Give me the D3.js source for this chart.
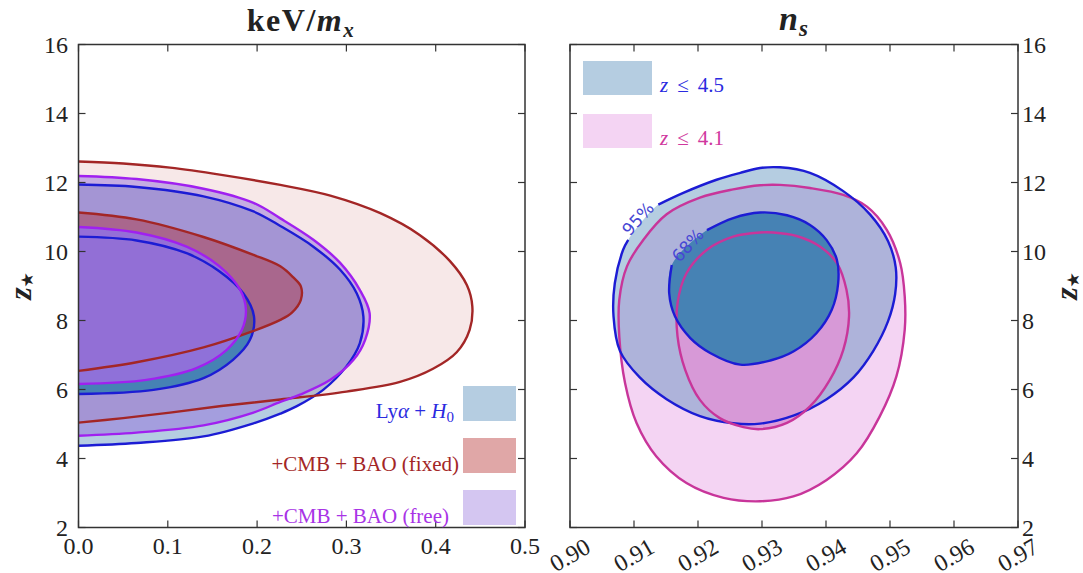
<!DOCTYPE html>
<html><head><meta charset="utf-8">
<script src="https://cdn.jsdelivr.net/npm/d3@7/dist/d3.min.js"></script>
<style>
body{margin:0;background:#fff}
svg{display:block}
text{font-family:"Liberation Serif","Times New Roman",serif;fill:#222}
</style></head>
<body><svg id="chart" width="1083" height="573"></svg>
<script>
// ---------- data ----------
const leftXTicks = [0.0, 0.1, 0.2, 0.3, 0.4, 0.5];
const leftXTickLabels = ["0.0", "0.1", "0.2", "0.3", "0.4", "0.5"];
const rightXTicks = [0.90, 0.91, 0.92, 0.93, 0.94, 0.95, 0.96, 0.97];
const rightXTickLabels = ["0.90", "0.91", "0.92", "0.93", "0.94", "0.95", "0.96", "0.97"];
const yTicks = [2, 4, 6, 8, 10, 12, 14, 16];
const yTickLabels = ["2", "4", "6", "8", "10", "12", "14", "16"];

// left panel: keV/m_x vs z*
const lyaH0_95 = [[0,11.94],[0.065,11.87],[0.140,11.60],[0.196,11.16],[0.226,10.74],[0.263,10.14],[0.293,9.47],[0.3115,8.79],[0.319,8.12],[0.315,7.34],[0.300,6.67],[0.274,5.99],[0.244,5.51],[0.226,5.30],[0.196,5.02],[0.140,4.64],[0.065,4.45],[0,4.37]];
const lyaH0_68 = [[0,10.43],[0.065,10.32],[0.121,9.95],[0.158,9.42],[0.1845,8.79],[0.1965,8.12],[0.192,7.44],[0.173,6.86],[0.140,6.33],[0.084,5.99],[0,5.87]];
const cmbFixed_95 = [[0,12.61],[0.05,12.55],[0.1025,12.43],[0.16,12.22],[0.226,11.93],[0.282,11.62],[0.338,11.11],[0.382,10.48],[0.416,9.72],[0.435,9.02],[0.441,8.41],[0.438,7.73],[0.4235,7.08],[0.397,6.60],[0.360,6.22],[0.300,5.94],[0.226,5.71],[0.16,5.52],[0.1025,5.33],[0.05,5.17],[0,5.04]];
const cmbFixed_68 = [[0,11.13],[0.065,10.93],[0.140,10.42],[0.196,9.90],[0.226,9.57],[0.2405,9.25],[0.249,8.99],[0.249,8.60],[0.239,8.23],[0.226,8.02],[0.196,7.70],[0.140,7.22],[0.065,6.79],[0,6.54]];
const cmbFree_95 = [[0,12.19],[0.065,12.10],[0.140,11.82],[0.196,11.41],[0.226,10.96],[0.263,10.34],[0.293,9.67],[0.315,8.89],[0.326,8.21],[0.321,7.44],[0.308,6.86],[0.282,6.28],[0.248,5.85],[0.226,5.64],[0.196,5.33],[0.140,4.96],[0.065,4.75],[0,4.66]];
const cmbFree_68 = [[0,10.71],[0.065,10.55],[0.121,10.14],[0.158,9.57],[0.181,8.89],[0.1875,8.31],[0.183,7.73],[0.166,7.15],[0.132,6.62],[0.076,6.28],[0,6.16]];

// right panel: n_s vs z*
const z45_95 = [[0.9138,11.36],[0.9177,11.70],[0.9229,12.08],[0.9266,12.28],[0.9297,12.42],[0.9328,12.44],[0.9375,12.28],[0.9427,11.75],[0.9469,11.07],[0.9497,10.30],[0.9509,9.53],[0.9508,8.76],[0.9497,7.98],[0.9474,7.12],[0.9443,6.35],[0.9401,5.72],[0.9349,5.24],[0.9297,5.01],[0.9255,5.02],[0.9203,5.23],[0.9151,5.72],[0.9109,6.35],[0.9078,7.12],[0.9068,8.12],[0.9070,9.08],[0.9083,10.05],[0.9091,10.34]];
const z45_68 = [[0.9214,10.62],[0.9255,10.97],[0.9297,11.13],[0.9339,11.05],[0.9375,10.77],[0.9401,10.33],[0.9417,9.76],[0.9419,9.08],[0.9409,8.31],[0.9385,7.63],[0.9349,7.10],[0.9313,6.84],[0.9266,6.72],[0.9219,7.06],[0.9188,7.49],[0.9164,8.12],[0.9155,8.79],[0.9159,9.61]];
const z41_95 = [[0.9255,11.80],[0.9297,11.92],[0.9328,11.93],[0.9375,11.84],[0.9427,11.64],[0.9464,11.30],[0.9495,10.63],[0.9516,9.66],[0.9523,8.70],[0.9523,7.73],[0.9510,6.38],[0.9484,5.22],[0.9448,4.15],[0.9401,3.38],[0.9349,2.90],[0.9297,2.76],[0.9240,2.86],[0.9182,3.29],[0.9135,4.06],[0.9104,5.03],[0.9086,6.19],[0.9077,7.54],[0.9077,8.60],[0.9089,9.57],[0.9115,10.35],[0.9151,11.08],[0.9203,11.56]];
const z41_68 = [[0.9297,10.55],[0.9318,10.55],[0.9354,10.45],[0.9391,10.14],[0.9417,9.66],[0.9432,8.89],[0.9436,8.12],[0.9427,7.15],[0.9406,6.28],[0.9375,5.51],[0.9339,5.03],[0.9297,4.85],[0.9271,4.91],[0.9234,5.17],[0.9203,5.70],[0.9180,6.57],[0.9168,7.54],[0.9168,8.50],[0.9182,9.37],[0.9214,10.05],[0.9255,10.43]];
const contourLabels = [{text:"95%", x:0.9106, y:10.95}, {text:"68%", x:0.9184, y:10.18}];

const leftLegend = ["Lyα + H0", "+CMB + BAO (fixed)", "+CMB + BAO (free)"];
const rightLegend = ["z ≤ 4.5", "z ≤ 4.1"];

// ---------- drawing ----------
const svg = d3.select("#chart");
const yTop = 44.5, yBot = 527.5;
const xL = d3.scaleLinear().domain([0, 0.5]).range([78.5, 525]);
const xR = d3.scaleLinear().domain([0.90, 0.97]).range([570, 1018]);
const y = d3.scaleLinear().domain([2, 16]).range([yBot, yTop]);

const C = {
  blue: "#1c1cd4", red: "#a32626", purple: "#a020f0", magenta: "#c8359a",
  blue95: "rgba(70,130,180,0.4)", blue68: "rgb(70,130,180)",
  red95: "rgba(178,34,34,0.1)", red68: "rgba(178,34,34,0.4)",
  pur95: "rgba(147,112,219,0.5)", pur68: "rgba(147,112,219,0.95)",
  mag95: "rgba(218,112,214,0.3)", mag68: "rgba(220,150,214,0.9)"
};

const defs = svg.append("defs");
defs.append("clipPath").attr("id","clipL").append("rect")
  .attr("x", xL(0)).attr("y", yTop).attr("width", xL(0.5)-xL(0)).attr("height", yBot-yTop);
defs.append("clipPath").attr("id","clipR").append("rect")
  .attr("x", xR(0.90)).attr("y", yTop).attr("width", xR(0.97)-xR(0.90)).attr("height", yBot-yTop);

// Left panel
const gL = svg.append("g").attr("clip-path","url(#clipL)");
const lineL = d3.line().x(d=>xL(d[0])).y(d=>y(d[1])).curve(d3.curveCatmullRom.alpha(0.5));
const leftSets = [
  {d: lyaH0_95, fill: C.blue95, stroke: C.blue},
  {d: cmbFixed_95, fill: C.red95, stroke: C.red},
  {d: cmbFree_95, fill: C.pur95, stroke: C.purple},
  {d: lyaH0_68, fill: C.blue68, stroke: C.blue},
  {d: cmbFixed_68, fill: C.red68, stroke: C.red},
  {d: cmbFree_68, fill: C.pur68, stroke: C.purple}
];
leftSets.forEach(s => gL.append("path").attr("d", lineL(s.d) + "Z").attr("fill", s.fill).attr("stroke","none"));
leftSets.forEach(s => gL.append("path").attr("d", lineL(s.d)).attr("fill","none")
  .attr("stroke", s.stroke).attr("stroke-width", 2.4).attr("stroke-linejoin","round"));

// Right panel
const gR = svg.append("g").attr("clip-path","url(#clipR)");
const closedR = d3.line().x(d=>xR(d[0])).y(d=>y(d[1])).curve(d3.curveCatmullRomClosed.alpha(0.5));
const openR = d3.line().x(d=>xR(d[0])).y(d=>y(d[1])).curve(d3.curveCatmullRom.alpha(0.5));
const rightSets = [
  {d: z41_95, fill: C.mag95, stroke: C.magenta, closed: true},
  {d: z45_95, fill: C.blue95, stroke: C.blue, closed: false},
  {d: z41_68, fill: C.mag68, stroke: C.magenta, closed: true},
  {d: z45_68, fill: C.blue68, stroke: C.blue, closed: false}
];
rightSets.forEach(s => gR.append("path").attr("d", closedR(s.d)).attr("fill", s.fill).attr("stroke","none"));
rightSets.forEach(s => gR.append("path").attr("d", s.closed ? closedR(s.d) : openR(s.d)).attr("fill","none")
  .attr("stroke", s.stroke).attr("stroke-width", 2.4).attr("stroke-linejoin","round"));
contourLabels.forEach(l => svg.append("text")
  .attr("transform", `translate(${xR(l.x)},${y(l.y)}) rotate(-48)`)
  .attr("text-anchor","middle").attr("dominant-baseline","central")
  .style("font-family","'DejaVu Sans',sans-serif").style("font-size","17px").style("fill","#4747d4")
  .text(l.text));

// Frames and ticks
function frame(x0, x1){
  svg.append("rect").attr("x", x0).attr("y", yTop).attr("width", x1-x0).attr("height", yBot-yTop)
    .attr("fill","none").attr("stroke","#333").attr("stroke-width",1.5);
}
frame(xL(0), xL(0.5));
frame(xR(0.90), xR(0.97));
const tl = 7;
function ticks(xs, sx, x0, x1){
  xs.forEach(v => {
    svg.append("line").attr("x1", sx(v)).attr("x2", sx(v)).attr("y1", yBot).attr("y2", yBot-tl).attr("stroke","#333").attr("stroke-width",1.2);
    svg.append("line").attr("x1", sx(v)).attr("x2", sx(v)).attr("y1", yTop).attr("y2", yTop+tl).attr("stroke","#333").attr("stroke-width",1.2);
  });
  yTicks.forEach(v => {
    svg.append("line").attr("x1", x0).attr("x2", x0+tl).attr("y1", y(v)).attr("y2", y(v)).attr("stroke","#333").attr("stroke-width",1.2);
    svg.append("line").attr("x1", x1).attr("x2", x1-tl).attr("y1", y(v)).attr("y2", y(v)).attr("stroke","#333").attr("stroke-width",1.2);
  });
}
ticks(leftXTicks, xL, xL(0), xL(0.5));
ticks(rightXTicks, xR, xR(0.90), xR(0.97));

// tick labels
leftXTicks.forEach((v,i) => svg.append("text").attr("x", xL(v)).attr("y", 554)
  .attr("text-anchor","middle").style("font-size","24px").text(leftXTickLabels[i]));
rightXTicks.forEach((v,i) => svg.append("text")
  .attr("transform", `translate(${xR(v)},${555}) rotate(-30)`)
  .attr("text-anchor","middle").attr("dominant-baseline","central").style("font-size","24px").text(rightXTickLabels[i]));
yTicks.forEach((v,i) => {
  svg.append("text").attr("x", 68).attr("y", y(v)).attr("text-anchor","end").attr("dominant-baseline","central")
    .style("font-size","24px").text(yTickLabels[i]);
  svg.append("text").attr("x", 1022).attr("y", y(v)).attr("text-anchor","start").attr("dominant-baseline","central")
    .style("font-size","24px").text(yTickLabels[i]);
});

// titles
const t1 = svg.append("text").attr("x", 301).attr("y", 31).attr("text-anchor","middle")
  .style("font-size","32px").style("font-weight","bold").style("letter-spacing","1.5px");
t1.append("tspan").text("keV/");
t1.append("tspan").style("font-style","italic").text("m");
t1.append("tspan").style("font-style","italic").style("font-size","21px").attr("dy", 6).text("x");
const t2 = svg.append("text").attr("x", 794).attr("y", 30).attr("text-anchor","middle")
  .style("font-size","34px").style("font-weight","bold").style("font-style","italic").style("letter-spacing","1px");
t2.append("tspan").text("n");
t2.append("tspan").style("font-size","23px").attr("dy", 6).text("s");

// y labels
function zlabel(x){
  const t = svg.append("text").attr("transform", `translate(${x},${286}) rotate(-90)`)
    .attr("text-anchor","middle").style("font-size","32px").style("font-weight","bold").style("font-style","italic");
  t.append("tspan").text("z");
  t.append("tspan").style("font-size","17px").style("font-style","normal").attr("dy", 2).style("font-family","'DejaVu Sans',sans-serif").text("★");
}
zlabel(31);
zlabel(1077);

// left legend
const legBoxes = [C.blue95, "rgba(178,34,34,0.4)", "rgba(147,112,219,0.4)"];
[386, 438, 490].forEach((yy,i) => svg.append("rect").attr("x", 463).attr("y", yy).attr("width", 53).attr("height", 35).attr("fill", legBoxes[i]));
const l1 = svg.append("text").attr("x", 454).attr("y", 418).attr("text-anchor","end").style("font-size","21px").style("fill","#2a2ae0");
l1.append("tspan").text("Ly");
l1.append("tspan").style("font-style","italic").text("α");
l1.append("tspan").text(" + ");
l1.append("tspan").style("font-style","italic").text("H");
l1.append("tspan").style("font-size","15px").attr("dy", 4).text("0");
svg.append("text").attr("x", 459).attr("y", 471).attr("text-anchor","end").style("font-size","21px").style("fill","#a32626").text(leftLegend[1]);
svg.append("text").attr("x", 449).attr("y", 523).attr("text-anchor","end").style("font-size","21px").style("fill","#a833e6").text(leftLegend[2]);

// right legend
[[61, C.blue95, "#2a2ae0", "4.5"], [114, "rgba(218,112,214,0.3)", "#d0389e", "4.1"]].forEach((r,i) => {
  svg.append("rect").attr("x", 583).attr("y", r[0]).attr("width", 69).attr("height", 34).attr("fill", r[1]);
  const t = svg.append("text").attr("x", 660).attr("y", r[0]+31).style("font-size","21px").style("fill", r[2]);
  t.append("tspan").style("font-style","italic").text("z");
  t.append("tspan").attr("dx", 9).text("≤");
  t.append("tspan").attr("dx", 9).text(r[3]);
});
</script>
</body></html>
